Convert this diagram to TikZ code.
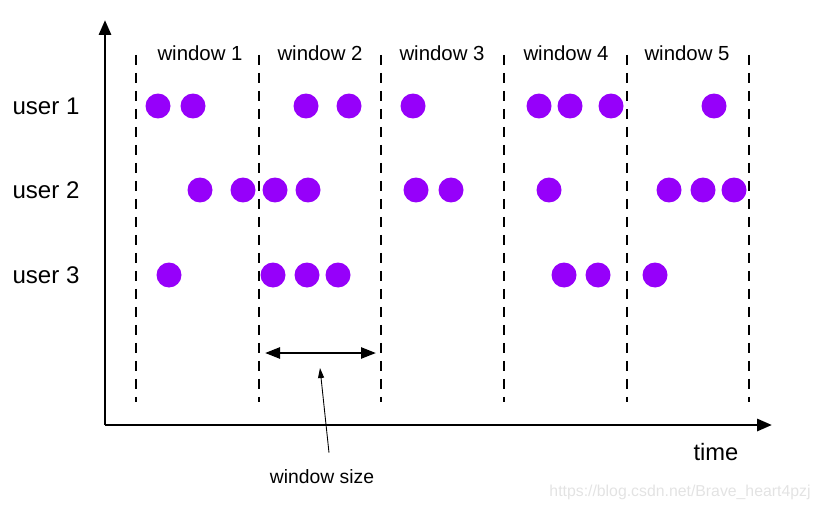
\documentclass[tikz,border=0pt]{standalone}
\usepackage{fontspec}
\setmainfont{Liberation Sans}
\usetikzlibrary{arrows.meta, positioning}
\definecolor{dotpurple}{RGB}{150,0,250}

\begin{document}
\begin{tikzpicture}[x=0.02cm, y=-0.02cm,
    dot/.style={circle, fill=dotpurple, minimum size=0.5cm, inner sep=0pt},
    winline/.style={dash pattern=on 0.2cm off 0.16cm, line width=1.5pt},
    axis/.style={-{Triangle[length=0.3cm, width=0.24cm]}, line width=1.7pt}]
    \useasboundingbox (0,0) rectangle (817,510);

    % axes
    \coordinate (origin) at (105,425);
    \coordinate (ytop) at (105,20);
    \coordinate (xend) at (772,425);
    \draw[axis] (origin) -- (ytop);
    \draw[axis] (origin) -- (xend);
    \node[font=\fontsize{13.5}{16}\selectfont] (time) at (716,452) {time};

    % window borders
    \foreach \x [count=\i] in {136,259,381,504,627,749} {
        \coordinate (top\i) at (\x,55);
        \coordinate (bot\i) at (\x,402);
        \draw[winline] (top\i) -- (bot\i);
    }
    \foreach \x [count=\i] in {200,320,442,566,687}
        \node[font=\fontsize{11.6}{14}\selectfont] (win\i) at (\x,53) {window \i};

    % users
    \foreach \y [count=\i] in {106,190,275}
        \node[font=\fontsize{13.7}{16}\selectfont] (user\i) at (46,\y) {user \i};

    % events
    \foreach \x [count=\i] in {158,193,306,349,413,539,570,611,714}
        \node[dot] (ua\i) at (\x,106) {};
    \foreach \x [count=\i] in {200,243,275,308,416,451,549,669,703,734}
        \node[dot] (ub\i) at (\x,190) {};
    \foreach \x [count=\i] in {169,273,307,338,564,598,655}
        \node[dot] (uc\i) at (\x,275) {};

    % window size
    \coordinate (wsleft) at (265,353);
    \coordinate (wsright) at (376,353);
    \draw[{Triangle[length=0.3cm, width=0.22cm]}-{Triangle[length=0.3cm, width=0.22cm]}, line width=1.4pt] (wsleft) -- (wsright);
    \node[font=\fontsize{11}{13}\selectfont] (wsize) at (322,477) {window size};
    \coordinate (wspoint) at (320,368);
    \draw[-{Triangle[length=0.2cm, width=0.12cm]}, line width=0.5pt] ([xshift=0.14cm, yshift=0.22cm]wsize.north) -- (wspoint);

    \node[text=gray!22, font=\fontsize{9}{11}\selectfont] (mark) at (680,492) {https://blog.csdn.net/Brave\_heart4pzj};
\end{tikzpicture}
\end{document}
